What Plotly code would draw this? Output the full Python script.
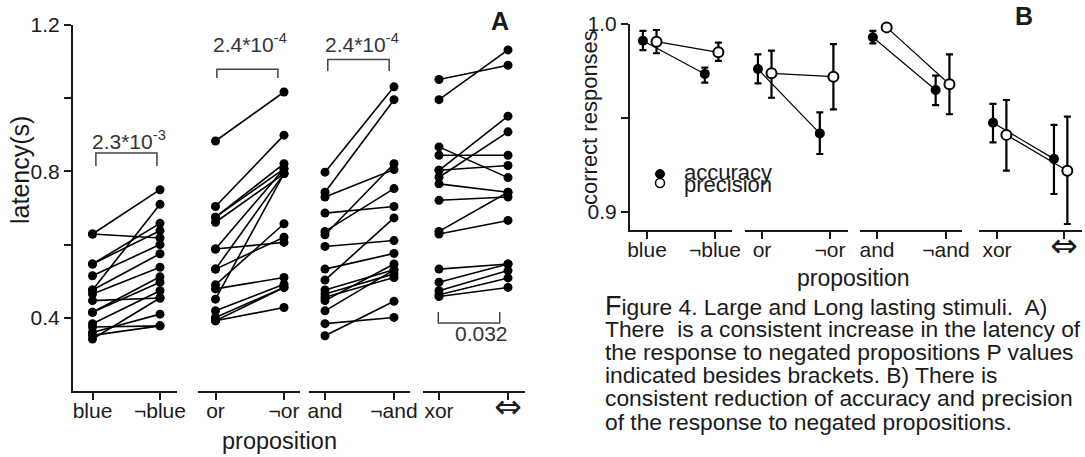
import plotly.graph_objects as go

W, H = 1085, 457
FONT = "Liberation Sans, Arial, sans-serif"
INK = "#1a1a1a"

# ---------------- data ----------------
IFF = "<span style='font-family:DejaVu Sans;font-size:33px'>⇔</span>"
groups = [("blue", "¬blue"), ("or", "¬or"), ("and", "¬and"), ("xor", IFF)]

# Panel A: latency (s) per subject, positive vs negated proposition
lat_blue     = [0.629, 0.629, 0.547, 0.547, 0.515, 0.476, 0.476, 0.465, 0.447, 0.415, 0.415, 0.384, 0.375, 0.360, 0.352, 0.342]
lat_not_blue = [0.750, 0.618, 0.658, 0.638, 0.600, 0.710, 0.575, 0.538, 0.454, 0.512, 0.497, 0.474, 0.378, 0.410, 0.378, 0.454]
lat_or       = [0.883, 0.704, 0.675, 0.675, 0.661, 0.588, 0.588, 0.533, 0.533, 0.490, 0.479, 0.451, 0.419, 0.401, 0.392, 0.392]
lat_not_or   = [1.017, 0.899, 0.821, 0.807, 0.794, 0.606, 0.807, 0.620, 0.794, 0.657, 0.510, 0.794, 0.492, 0.483, 0.428, 0.483]
lat_and      = [0.798, 0.743, 0.730, 0.686, 0.636, 0.627, 0.595, 0.533, 0.503, 0.476, 0.465, 0.456, 0.447, 0.419, 0.384, 0.351]
lat_not_and  = [1.031, 0.996, 0.805, 0.704, 0.753, 0.821, 0.611, 0.576, 0.673, 0.531, 0.520, 0.510, 0.547, 0.531, 0.401, 0.445]
lat_xor      = [1.051, 0.996, 0.867, 0.844, 0.803, 0.803, 0.784, 0.766, 0.721, 0.636, 0.629, 0.533, 0.497, 0.474, 0.463, 0.458]
lat_iff      = [1.090, 1.132, 0.783, 0.844, 0.951, 0.816, 0.908, 0.743, 0.730, 0.743, 0.666, 0.547, 0.547, 0.529, 0.509, 0.483]

lat_pairs = [(lat_blue, lat_not_blue), (lat_or, lat_not_or), (lat_and, lat_not_and), (lat_xor, lat_iff)]
p_values = ["2.3*10<sup>-3</sup>", "2.4*10<sup>-4</sup>", "2.4*10<sup>-4</sup>", "0.032"]

# Panel B: correct responses (mean, upper, lower) in category order
acc_mean  = [0.9911, 0.9734, 0.9760, 0.9417, 0.9929, 0.9648, 0.9474, 0.9281]
acc_hi    = [0.9963, 0.9767, 0.9838, 0.9529, 0.9963, 0.9725, 0.9574, 0.9462]
acc_lo    = [0.9861, 0.9687, 0.9684, 0.9307, 0.9897, 0.9568, 0.9369, 0.9094]
prec_mean = [0.9906, 0.9849, 0.9737, 0.9719, 0.9982, 0.9679, 0.9409, 0.9218]
prec_hi   = [0.9968, 0.9901, 0.9858, 0.9893, 0.9990, 0.9838, 0.9595, 0.9506]
prec_lo   = [0.9844, 0.9803, 0.9607, 0.9545, 0.9974, 0.9519, 0.9218, 0.8934]

caption = [
    "<span style='font-size:27px'>F</span>igure 4. Large and Long lasting stimuli.  A)",
    "There\u00a0 is a consistent increase in the latency of",
    "the response to negated propositions P values",
    "indicated besides brackets. B) There is",
    "consistent reduction of accuracy and precision",
    "of the response to negated propositions.",
]

# ---------------- layout constants (pixels) ----------------
def fx(x):
    return x / W

def fy(y):
    return 1 - y / H

A_ticks = [(92.5, 160), (215.5, 284), (325, 394), (439, 508)]
A_dom = [(73, 177), (198, 300), (309, 410), (423, 525)]
A_y = (25, 391)
B_ticks = [(647, 715), (762, 830), (877, 946), (997, 1064)]
B_dom = [(630, 732), (745, 848), (860, 962), (979, 1082)]
B_y = (24, 230)
acc_dx = (-0.06, -0.15)
prec_dx = (0.14, 0.05)

# bracket geometry in category units / data units
brackets = [
    dict(x0=0.05, x1=0.955, ytop=0.850, yend=0.815, tx=0.54, ty=0.886),
    dict(x0=0.02, x1=0.91, ytop=1.079, yend=1.055, tx=0.50, ty=1.151),
    dict(x0=0.04, x1=0.93, ytop=1.106, yend=1.074, tx=0.54, ty=1.151),
    dict(x0=-0.01, x1=0.88, ytop=0.386, yend=0.416, tx=0.61, ty=0.358),
]

fig = go.Figure()
lay = dict(
    width=W, height=H, margin=dict(l=0, r=0, t=0, b=0, pad=0),
    paper_bgcolor="white", plot_bgcolor="white", showlegend=False,
    font=dict(family=FONT, color=INK, size=21),
)

def xaxis_cfg(dom, ticks, labels, anchor):
    t0, t1 = ticks
    ppu = t1 - t0
    return dict(
        domain=[fx(dom[0]), fx(dom[1])],
        range=[(dom[0] - t0) / ppu, (dom[1] - t0) / ppu],
        anchor=anchor, showline=True, linecolor=INK, linewidth=2,
        ticks="outside", ticklen=7, tickwidth=1.5, tickcolor=INK,
        tickvals=[0, 1], ticktext=list(labels), tickfont=dict(size=21),
        ticklabelstandoff=-7,
        showgrid=False, zeroline=False, fixedrange=True, automargin=False,
    )

for i, (labels, (first, second)) in enumerate(zip(groups, lat_pairs)):
    ax = i + 1
    name = "xaxis" if ax == 1 else f"xaxis{ax}"
    lay[name] = xaxis_cfg(A_dom[i], A_ticks[i], labels, "y")
    xs, ys = [], []
    for a, b in zip(first, second):
        xs += [0, 1, None]
        ys += [a, b, None]
    fig.add_trace(go.Scatter(
        x=xs, y=ys, mode="lines+markers", xaxis=f"x{ax}" if ax > 1 else "x", yaxis="y",
        line=dict(color="black", width=1.6), marker=dict(color="black", size=9),
        cliponaxis=False, hoverinfo="skip",
    ))
    br = brackets[i]
    xref = f"x{ax}" if ax > 1 else "x"
    fig.add_shape(type="path", xref=xref, yref="y",
                  path=f"M {br['x0']},{br['yend']} L {br['x0']},{br['ytop']} L {br['x1']},{br['ytop']} L {br['x1']},{br['yend']}",
                  line=dict(color="#444", width=1.5))
    fig.add_annotation(x=br["tx"], y=br["ty"], xref=xref, yref="y", text=p_values[i],
                       showarrow=False, font=dict(size=21, color="#333"), xanchor="center", yanchor="middle")

    # Panel B
    bx = i + 5
    lay[f"xaxis{bx}"] = xaxis_cfg(B_dom[i], B_ticks[i], labels, "y2")
    j0, j1 = 2 * i, 2 * i + 1
    fig.add_trace(go.Scatter(
        x=[0 + acc_dx[0], 1 + acc_dx[1]], y=[acc_mean[j0], acc_mean[j1]],
        mode="lines+markers", xaxis=f"x{bx}", yaxis="y2",
        line=dict(color="black", width=1.2), marker=dict(color="black", size=10),
        error_y=dict(type="data", symmetric=False,
                     array=[acc_hi[j0] - acc_mean[j0], acc_hi[j1] - acc_mean[j1]],
                     arrayminus=[acc_mean[j0] - acc_lo[j0], acc_mean[j1] - acc_lo[j1]],
                     color="black", thickness=2.2, width=3.5),
        cliponaxis=False, hoverinfo="skip",
    ))
    fig.add_trace(go.Scatter(
        x=[0 + prec_dx[0], 1 + prec_dx[1]], y=[prec_mean[j0], prec_mean[j1]],
        mode="lines+markers", xaxis=f"x{bx}", yaxis="y2",
        line=dict(color="black", width=1.2),
        marker=dict(color="white", size=10, line=dict(color="black", width=2)),
        error_y=dict(type="data", symmetric=False,
                     array=[prec_hi[j0] - prec_mean[j0], prec_hi[j1] - prec_mean[j1]],
                     arrayminus=[prec_mean[j0] - prec_lo[j0], prec_mean[j1] - prec_lo[j1]],
                     color="black", thickness=2.2, width=3.5),
        cliponaxis=False, hoverinfo="skip",
    ))

def yaxis_cfg(dom, rng, labelled, minor_vals, anchor):
    return dict(
        domain=[fy(dom[1]), fy(dom[0])], range=rng, anchor=anchor,
        showline=True, linecolor=INK, linewidth=2,
        ticks="outside", ticklen=7, tickwidth=1.5, tickcolor=INK,
        tickvals=labelled, ticktext=[f"{v:.1f}" for v in labelled],
        minor=dict(tickvals=minor_vals, ticks="outside", ticklen=7, tickwidth=1.5, tickcolor=INK, showgrid=False),
        tickfont=dict(size=21), showgrid=False, zeroline=False, fixedrange=True, automargin=False,
    )

lay["yaxis"] = yaxis_cfg(A_y, [0.2, 1.2], [0.4, 0.8, 1.2], [0.6, 1.0], "x")
lay["yaxis2"] = yaxis_cfg(B_y, [0.8902, 1.0], [0.9, 1.0], [0.95], "x5")
fig.update_layout(**lay)

def note(x, y, text, size=22, angle=0, xanchor="center", bold=False):
    fig.add_annotation(x=fx(x), y=fy(y), xref="paper", yref="paper", text=f"<b>{text}</b>" if bold else text,
                       showarrow=False, textangle=angle, xanchor=xanchor, yanchor="middle",
                       font=dict(size=size, color=INK, family=FONT))

note(20, 170, "latency(s)", size=25, angle=-90)
note(279, 441, "proposition", size=23.5)
note(589, 118, "correct responses", size=22, angle=-90)
note(853, 278, "proposition", size=23)
note(500, 21, "A", size=25, bold=True)
note(1024, 16, "B", size=25, bold=True)

# legend of panel B
fig.add_shape(type="circle", xref="paper", yref="paper", x0=fx(655.5), x1=fx(664.5), y0=fy(178.5), y1=fy(169.5),
              fillcolor="black", line=dict(color="black", width=1))
fig.add_shape(type="circle", xref="paper", yref="paper", x0=fx(655.5), x1=fx(664.5), y0=fy(187.5), y1=fy(178.5),
              fillcolor="white", line=dict(color="black", width=1.5))
note(682, 172, "accuracy", size=22, xanchor="left")
note(682, 184, "precision", size=22, xanchor="left")

for k, line in enumerate(caption):
    note(603, 305.5 + 23.2 * k, line, size=22.8, xanchor="left")

fig.write_html(
    "out.html",
    config={"displayModeBar": False},
    post_script="document.documentElement.style.margin='0';document.body.style.margin='0';"
                "document.body.style.overflow='hidden';",
)
